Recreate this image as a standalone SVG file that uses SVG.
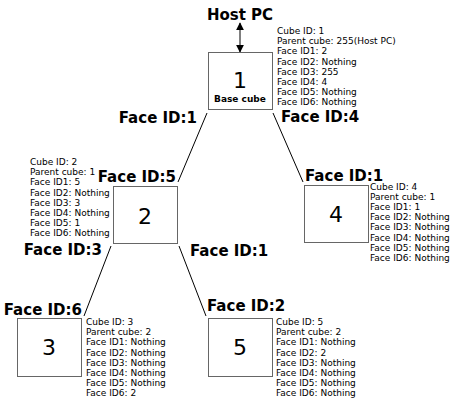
<svg xmlns="http://www.w3.org/2000/svg" width="452" height="402" viewBox="0 0 452 402">
<style>
.box{fill:#fff;stroke:#666;stroke-width:1}
.num{font-family:"DejaVu Sans",sans-serif;font-size:22px;text-anchor:middle;fill:#000}
.sub{font-family:"DejaVu Sans",sans-serif;font-size:9px;font-weight:bold;text-anchor:middle;fill:#000}
.info{font-family:"DejaVu Sans",sans-serif;font-size:9px;fill:#000}
.lbl{font-family:"DejaVu Sans",sans-serif;font-size:15px;font-weight:bold;fill:#000}
.end{text-anchor:end}
.con{stroke:#000;stroke-width:1;fill:none}
</style>
<defs>
<marker id="ah" viewBox="0 0 10 10" refX="9" refY="5" markerWidth="8" markerHeight="8" markerUnits="userSpaceOnUse" orient="auto-start-reverse">
<path d="M0,0 L10,5 L0,10 Z" fill="#000"/>
</marker>
</defs>
<rect width="452" height="402" fill="#fff"/>
<g id="connectors">
<line class="con" x1="240" y1="23" x2="240" y2="52" stroke-width="2" marker-start="url(#ah)" marker-end="url(#ah)"/>
<line class="con" x1="207" y1="113" x2="178" y2="182"/>
<line class="con" x1="273" y1="113" x2="303" y2="182"/>
<line class="con" x1="111" y1="246" x2="84" y2="316"/>
<line class="con" x1="179" y1="246" x2="206" y2="316"/>
</g>
<g id="labels">
<text class="lbl" x="240" y="20" text-anchor="middle">Host PC</text>
<text class="lbl end" x="197" y="123">Face ID:1</text>
<text class="lbl" x="281" y="122">Face ID:4</text>
<text class="lbl end" x="176" y="182">Face ID:5</text>
<text class="lbl" x="305" y="181">Face ID:1</text>
<text class="lbl end" x="102" y="255">Face ID:3</text>
<text class="lbl" x="190" y="256">Face ID:1</text>
<text class="lbl end" x="82" y="315">Face ID:6</text>
<text class="lbl" x="207" y="311">Face ID:2</text>
</g>
<g id="node1">
<rect class="box" x="208.5" y="52.5" width="64" height="57"/>
<text class="num" x="240" y="88">1</text>
<text class="sub" x="240" y="102">Base cube</text>
<text class="info" x="277" y="34">
<tspan x="277" dy="0">Cube ID: 1</tspan>
<tspan x="277" dy="10.2">Parent cube: 255(Host PC)</tspan>
<tspan x="277" dy="10.2">Face ID1: 2</tspan>
<tspan x="277" dy="10.2">Face ID2: Nothing</tspan>
<tspan x="277" dy="10.2">Face ID3: 255</tspan>
<tspan x="277" dy="10.2">Face ID4: 4</tspan>
<tspan x="277" dy="10.2">Face ID5: Nothing</tspan>
<tspan x="277" dy="10.2">Face ID6: Nothing</tspan>
</text>
</g>
<g id="node2">
<rect class="box" x="113.5" y="186.5" width="64" height="57"/>
<text class="num" x="145" y="224">2</text>
<text class="info" x="30" y="165">
<tspan x="30" dy="0">Cube ID: 2</tspan>
<tspan x="30" dy="10.2">Parent cube: 1</tspan>
<tspan x="30" dy="10.2">Face ID1: 5</tspan>
<tspan x="30" dy="10.2">Face ID2: Nothing</tspan>
<tspan x="30" dy="10.2">Face ID3: 3</tspan>
<tspan x="30" dy="10.2">Face ID4: Nothing</tspan>
<tspan x="30" dy="10.2">Face ID5: 1</tspan>
<tspan x="30" dy="10.2">Face ID6: Nothing</tspan>
</text>
</g>
<g id="node4">
<rect class="box" x="304.5" y="185.5" width="64" height="57"/>
<text class="num" x="336" y="222">4</text>
<text class="info" x="370" y="190">
<tspan x="370" dy="0">Cube ID: 4</tspan>
<tspan x="370" dy="10.1">Parent cube: 1</tspan>
<tspan x="370" dy="10.1">Face ID1: 1</tspan>
<tspan x="370" dy="10.1">Face ID2: Nothing</tspan>
<tspan x="370" dy="10.1">Face ID3: Nothing</tspan>
<tspan x="370" dy="10.1">Face ID4: Nothing</tspan>
<tspan x="370" dy="10.1">Face ID5: Nothing</tspan>
<tspan x="370" dy="10.1">Face ID6: Nothing</tspan>
</text>
</g>
<g id="node3">
<rect class="box" x="17.5" y="318.5" width="64" height="58"/>
<text class="num" x="49" y="355">3</text>
<text class="info" x="86" y="325">
<tspan x="86" dy="0">Cube ID: 3</tspan>
<tspan x="86" dy="10.2">Parent cube: 2</tspan>
<tspan x="86" dy="10.2">Face ID1: Nothing</tspan>
<tspan x="86" dy="10.2">Face ID2: Nothing</tspan>
<tspan x="86" dy="10.2">Face ID3: Nothing</tspan>
<tspan x="86" dy="10.2">Face ID4: Nothing</tspan>
<tspan x="86" dy="10.2">Face ID5: Nothing</tspan>
<tspan x="86" dy="10.2">Face ID6: 2</tspan>
</text>
</g>
<g id="node5">
<rect class="box" x="208.5" y="318.5" width="64" height="58"/>
<text class="num" x="240" y="355">5</text>
<text class="info" x="276" y="325">
<tspan x="276" dy="0">Cube ID: 5</tspan>
<tspan x="276" dy="10.2">Parent cube: 2</tspan>
<tspan x="276" dy="10.2">Face ID1: Nothing</tspan>
<tspan x="276" dy="10.2">Face ID2: 2</tspan>
<tspan x="276" dy="10.2">Face ID3: Nothing</tspan>
<tspan x="276" dy="10.2">Face ID4: Nothing</tspan>
<tspan x="276" dy="10.2">Face ID5: Nothing</tspan>
<tspan x="276" dy="10.2">Face ID6: Nothing</tspan>
</text>
</g>
</svg>
